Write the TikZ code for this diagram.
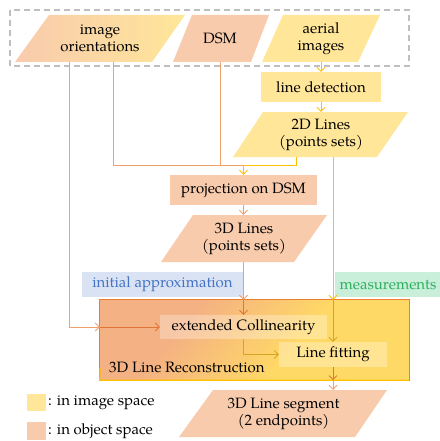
\documentclass[tikz,border=0pt]{standalone}
\usepackage{fontspec}
\setmainfont{TeX Gyre Pagella}
\usetikzlibrary{arrows.meta}
\definecolor{fillO}{HTML}{F8CBAD}
\definecolor{fillY}{HTML}{FFE699}
\definecolor{lineO}{HTML}{F0A06A}
\definecolor{lineY}{HTML}{FFC000}
\definecolor{darkO}{HTML}{E2753A}
\definecolor{darkY}{HTML}{D9A521}
\definecolor{recO}{HTML}{F4B183}
\definecolor{recY}{HTML}{FFD966}
\definecolor{bordO}{HTML}{ED7D31}
\definecolor{blueF}{HTML}{DAE3F3}
\definecolor{blueT}{HTML}{4472C4}
\definecolor{greenF}{HTML}{C9EEDA}
\definecolor{greenT}{HTML}{2EB05E}
\definecolor{dashG}{HTML}{BFBFBF}
\pgfdeclarehorizontalshading{recon}{100bp}{color(0bp)=(recO); color(45bp)=(recO); color(55bp)=(recY); color(100bp)=(recY)}
\begin{document}
\begin{tikzpicture}[x=1pt,y=-1pt,
  txt/.style={font=\fontsize{15}{17}\selectfont, align=center, inner sep=0pt},
  area/.style={txt, minimum width=#1},
  tip/.style={-{Straight Barb[length=4pt,width=8pt]}},
  conO/.style={draw=lineO, line width=0.9pt},
  conY/.style={draw=lineY, line width=0.9pt},
  conDO/.style={draw=darkO, line width=0.9pt},
  conDY/.style={draw=darkY, line width=0.9pt},
  inner/.style={txt, fill=white, fill opacity=0.3, text opacity=1}
]
\useasboundingbox (0,0) rectangle (439,441);

% dashed input frame
\draw[dashG, line width=1.4pt, dash pattern=on 6pt off 4pt] (10,10) rectangle (409,66);

% input parallelograms
\shade[left color=fillO, right color=fillY] (15,62) -- (49,15) -- (185,15) -- (152,62) -- cycle;
\node[area=120pt, minimum height=47pt] (io) at (100,38.5) {image\\orientations};
\fill[fillO] (173,62) -- (192,15) -- (269,15) -- (251,62) -- cycle;
\node[area=60pt, minimum height=47pt] (dsm) at (220,38.5) {DSM};
\fill[fillY] (262,62) -- (283,15) -- (380,15) -- (358,62) -- cycle;
\node[area=80pt, minimum height=47pt] (ar) at (321,38.5) {aerial\\images};

% processing
\node[txt, fill=fillY, minimum width=120pt, minimum height=30pt] (ld) at (321,87) {line detection};
\fill[fillY] (233,157) -- (263,112) -- (408,112) -- (377,157) -- cycle;
\node[area=110pt, minimum height=45pt] (l2) at (321,134.5) {2D Lines\\(points sets)};
\node[txt, fill=fillO, minimum width=147pt, minimum height=30pt] (proj) at (243.5,190) {projection on DSM};
\fill[fillO] (161,262) -- (193,215) -- (327,215) -- (294,262) -- cycle;
\node[area=110pt, minimum height=47pt] (l3) at (244,238.5) {3D Lines\\(points sets)};

\node[txt, fill=blueF, text=blueT, minimum width=161pt, minimum height=25pt] (ia) at (162.5,284.5) {initial approximation};
\node[txt, fill=greenF, text=greenT, minimum width=106pt, minimum height=25pt] (ms) at (388,284.5) {measurements};

% reconstruction box
\node[minimum width=309pt, minimum height=80pt, inner sep=0pt] (rec) at (254.5,340) {};
\begin{scope}
\clip (100,300) rectangle (409,380);
\shade[shading=recon, shading angle=-41] (-15,90) rectangle (485,590);
\end{scope}
\draw[bordO, line width=1.2pt] (rec.north west) rectangle (rec.south east);
\draw[lineY, line width=1.2pt] (100,368) -- (rec.south west) -- (rec.south east);
\node[inner, minimum width=167pt, minimum height=24pt] (ec) at (243.5,327) {extended Collinearity};
\node[inner, minimum width=108pt, minimum height=25pt] (lf) at (333,354.5) {Line fitting};
\node[txt, anchor=west] (rl) at (109,367) {3D Line Reconstruction};

% output
\fill[fillO] (179,437) -- (213,390) -- (387,390) -- (355,437) -- cycle;
\node[area=150pt, minimum height=47pt] (seg) at (283.5,413.5) {3D Line segment\\(2 endpoints)};

% legend
\node[fill=fillY, minimum width=19pt, minimum height=17pt, inner sep=0pt] (ky) at (36.5,402.5) {};
\node[txt, anchor=west] (kyt) at (48,402.5) {: in image space};
\node[fill=fillO, minimum width=19pt, minimum height=18pt, inner sep=0pt] (ko) at (36.5,431) {};
\node[txt, anchor=west] (kot) at (48,431) {: in object space};

% connectors
\coordinate (j) at (243.5,165);
\draw[conO] ([xshift=13pt]io.south) |- (j);
\draw[conO] (dsm.south) -- (dsm.south |- j);
\draw[conY] ([xshift=-25pt]l2.south) |- (j);
\draw[conY, tip] (j) -- (proj.north);
\draw[conO, tip] (proj.south) -- (proj.south |- l3.north);
\draw[conO, tip] (proj.south |- l3.south) -- (proj.south |- rec.north);
\draw[conDO, tip] (proj.south |- rec.north) -- (ec.north);
\draw[conY, tip] (ar.south) -- (ld.north);
\draw[conY, tip] (ld.south) -- (ld.south |- l2.north);
\draw[conY, tip] (lf.north |- l2.south) -- (lf.north |- rec.north);
\draw[conDY, tip] (lf.north |- rec.north) -- (lf.north);
\draw[conDY, tip] (ec.south) |- (lf.west);
\draw[conDO, tip] (lf.south) -- (lf.south |- rec.south);
\draw[conO, tip] (lf.south |- rec.south) -- (lf.south |- seg.north);
\draw[conO, tip] ([xshift=-31pt]io.south) |- (rec.west |- ec.west);
\draw[conDO, tip] (rec.west |- ec.west) -- (ec.west);
\end{tikzpicture}
\end{document}
